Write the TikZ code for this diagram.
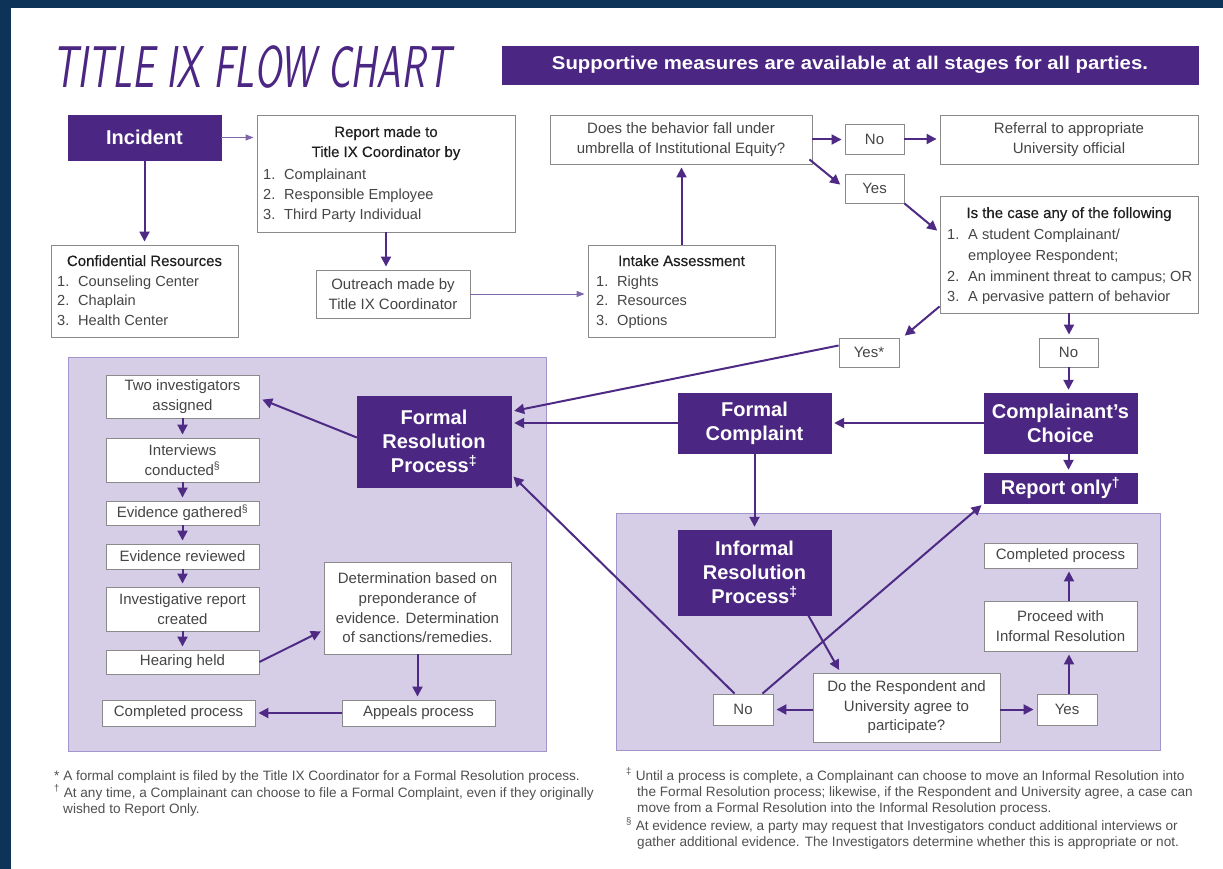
\documentclass[tikz,border=0pt]{standalone}
\usepackage{fontspec}
\setmainfont{Liberation Sans}
\newfontfamily\medfont[FakeBold=0.35]{Liberation Sans}
\usepackage{graphicx}
\usetikzlibrary{arrows.meta,calc}
\definecolor{navy}{HTML}{0E3358}
\definecolor{purp}{HTML}{4B2682}
\definecolor{arrc}{HTML}{4E2A84}
\definecolor{tarrc}{HTML}{7D66AA}
\definecolor{lav}{HTML}{D5CEE6}
\definecolor{lavb}{HTML}{A396CC}
\definecolor{bgray}{HTML}{8A8A8A}
\definecolor{txt}{HTML}{454545}
\definecolor{hd}{HTML}{1E1E1E}
\definecolor{fntc}{HTML}{505050}
\newcommand\bodyf{\fontsize{15}{19.6}\selectfont}
\newcommand\listf{\fontsize{14.6}{19.6}\selectfont}
\newcommand\headf{\bfseries\fontsize{20}{24}\selectfont}
\newcommand\itn[1]{\makebox[21pt][l]{#1}}
\newcommand\mkbox[7][wbox]{\node[#1, minimum width={(#5-#3)*1pt}, minimum height={(#6-#4)*1pt}] (#2) at ({(#3+#5)/2},{(#4+#6)/2}) {#7};}
\tikzset{
  wbox/.style={draw=bgray, line width=0.9pt, fill=white, inner sep=0pt, text=txt, font=\bodyf, align=center},
  pbox/.style={draw=purp, fill=purp, inner sep=0pt, text=white, font=\headf, align=center},
  banner/.style={draw=purp, fill=purp, inner sep=0pt, text=white, font=\bfseries\fontsize{18.5}{22}\selectfont},
  panel/.style={draw=lavb, line width=1pt, fill=lav},
  arr/.style={draw=arrc, line width=2pt, -{Triangle[length=10pt,width=10pt]}, shorten >=3pt},
  tarr/.style={draw=tarrc, line width=1pt, -{Triangle[length=8pt,width=6pt]}, shorten >=3pt},
  hdt/.style={anchor=base, inner sep=0pt, font=\medfont\fontsize{15}{19.6}\selectfont, text=hd},
  itm/.style={anchor=base west, inner sep=0pt, font=\listf, text=txt},
  fnt/.style={anchor=base west, inner sep=0pt, font=\fontsize{13.6}{16}\selectfont, text=fntc}
}
\begin{document}
\begin{tikzpicture}[x=1pt,y=-1pt]
\useasboundingbox (0,0) rectangle (1223,869);
\fill[white] (0,0) rectangle (1223,869);
\fill[navy] (0,0) rectangle (1223,8);
\fill[navy] (0,0) rectangle (11,869);

% title and banner
\node[anchor=base west, inner sep=0pt, text=purp, font=\sffamily\slshape\fontsize{59}{62}\selectfont] (title) at (52,88) {\resizebox{398pt}{\height}{TITLE IX FLOW CHART}};
\mkbox[banner]{banner}{502}{46}{1198}{84}{\scalebox{1.1}[1]{Supportive measures are available at all stages for all parties.}}

% panels
\draw[panel] (68,357) rectangle (546,751);
\draw[panel] (616,513) rectangle (1160,750);

% top row
\mkbox[pbox]{incident}{68}{115}{221}{160}{Incident}
\mkbox{report}{257}{115}{515}{232}{}
\node[hdt] (repT1) at (386,137) {Report made to};
\node[hdt] (repT2) at (386,157) {Title IX Coordinator by};
\node[itm] (repI1) at (263,180) {\itn{1.}Complainant};
\node[itm] (repI2) at (263,199.5) {\itn{2.}Responsible Employee};
\node[itm] (repI3) at (263,219) {\itn{3.}Third Party Individual};

\mkbox{conf}{51}{245}{238}{337}{}
\node[hdt] (confT) at (144.5,266) {Confidential Resources};
\node[itm] (confI1) at (57,286) {\itn{1.}Counseling Center};
\node[itm] (confI2) at (57,305.5) {\itn{2.}Chaplain};
\node[itm] (confI3) at (57,325) {\itn{3.}Health Center};

\mkbox{outreach}{316}{270}{470}{318}{Outreach made by\\Title IX Coordinator}

\mkbox{intake}{588}{245}{775}{337}{}
\node[hdt] (intT) at (681.5,266) {Intake Assessment};
\node[itm] (intI1) at (596,286) {\itn{1.}Rights};
\node[itm] (intI2) at (596,305.5) {\itn{2.}Resources};
\node[itm] (intI3) at (596,325) {\itn{3.}Options};

\mkbox{does}{550}{115}{812}{164}{Does the behavior fall under\\umbrella of Institutional Equity?}
\mkbox{noA}{845}{124}{904}{154}{No}
\mkbox{referral}{940}{115}{1198}{164}{Referral to appropriate\\University official}
\mkbox{yesA}{845}{174}{904}{203}{Yes}

\mkbox{iscase}{940}{196}{1198}{313}{}
\node[hdt] (isT) at (1069,218) {Is the case any of the following};
\node[itm] (isI1) at (947,240) {\itn{1.}A student Complainant/};
\node[itm] (isI1b) at (947,260) {\itn{}employee Respondent;};
\node[itm] (isI2) at (947,281.5) {\itn{2.}An imminent threat to campus; OR};
\node[itm] (isI3) at (947,301.5) {\itn{3.}A pervasive pattern of behavior};

\mkbox{yesB}{839}{338}{899}{367}{Yes*}
\mkbox{noB}{1039}{338}{1098}{367}{No}

% middle
\mkbox[pbox]{cc}{984}{393}{1137}{453}{Complainant’s\\Choice}
\mkbox[pbox]{fc}{678}{393}{831}{453}{Formal\\Complaint}
\mkbox[pbox]{frp}{357}{396}{511}{487}{Formal\\Resolution\\Process\textsuperscript{‡}}
\mkbox[pbox]{ronly}{984}{473}{1137}{503}{Report only\textsuperscript{†}}

% right panel
\mkbox[pbox]{irp}{678}{530}{831}{615}{Informal\\Resolution\\Process\textsuperscript{‡}}
\mkbox{doq}{813}{673}{1000}{742}{Do the Respondent and\\University agree to\\participate?}
\mkbox{noC}{713}{694}{773}{725}{No}
\mkbox{yesC}{1037}{694}{1097}{725}{Yes}
\mkbox{proceed}{984}{601}{1137}{651}{Proceed with\\Informal Resolution}
\mkbox{compR}{984}{543}{1137}{568}{Completed process}

% left panel
\mkbox{two}{106}{375}{259}{418}{Two investigators\\assigned}
\mkbox{interv}{106}{438}{259}{482}{Interviews\\conducted\textsuperscript{§}}
\mkbox{gath}{106}{501}{259}{525}{Evidence gathered\textsuperscript{§}}
\mkbox{rev}{106}{544}{259}{569}{Evidence reviewed}
\mkbox{invrep}{106}{587}{259}{631}{Investigative report\\created}
\mkbox{hear}{106}{650}{259}{674}{Hearing held}
\mkbox{det}{324}{562}{511}{654}{Determination based on\\preponderance of\\evidence. Determination\\of sanctions/remedies.}
\mkbox{appeals}{342}{700}{495}{726}{Appeals process}
\mkbox{compL}{102}{700}{255}{726}{Completed process}

% connectors
\draw[tarr] (incident.east) -- (incident.east -| report.west);
\draw[arr] (incident.south) -- (conf.north);
\draw[arr] (report.south) -- (report.south |- outreach.north);
\draw[tarr] (outreach.east) -- (outreach.east -| intake.west);
\draw[arr] (intake.north) -- (intake.north |- does.south);
\draw[arr] (does.east) -- (does.east -| noA.west);
\draw[arr] (noA.east) -- (noA.east -| referral.west);
\draw[arr] ($(does.south east)+(-3,-5)$) -- ($(yesA.west)+(-2,-2)$);
\draw[arr] (yesA.south east) -- ($(iscase.north west)+(0,37)$);
\draw[arr] ($(iscase.south west)+(0,-7)$) -- ($(yesB.north east)+(3,0)$);
\draw[arr] ($(yesB.west)+(0,-7)$) -- ($(frp.east)+(0,-30)$);
\draw[arr] (iscase.south) -- (iscase.south |- noB.north);
\draw[arr] (noB.south) -- (noB.south |- cc.north);
\draw[arr] (cc.west) -- (fc.east);
\draw[arr] (fc.west) -- (fc.west -| frp.east);
\draw[arr] (noB.south |- cc.south) -- (noB.south |- ronly.north);
\draw[arr] (fc.south) -- (irp.north);
\draw[arr] ($(irp.south east)+(-23,0)$) -- ($(doq.north west)+(28,0)$);
\draw[arr] (doq.west |- noC.east) -- (noC.east);
\draw[arr] (doq.east |- yesC.west) -- (yesC.west);
\draw[arr] ($(yesC.north)+(2,0)$) -- ($(yesC.north |- proceed.south)+(2,0)$);
\draw[arr] ($(yesC.north |- proceed.north)+(2,0)$) -- ($(yesC.north |- compR.south)+(2,0)$);
\draw[arr] ($(noC.north east)+(-11,0)$) -- (ronly.south west);
\draw[arr] ($(noC.north west)+(22,0)$) -- ($(frp.east)+(0,33)$);
\draw[arr] ($(frp.west)+(0,-4)$) -- ($(two.east)+(0,2)$);
\draw[arr] (two.south) -- (interv.north);
\draw[arr] (interv.south) -- (gath.north);
\draw[arr] (gath.south) -- (rev.north);
\draw[arr] (rev.south) -- (invrep.north);
\draw[arr] (invrep.south) -- (hear.north);
\draw[arr] (hear.east) -- ($(det.west)+(0,22)$);
\draw[arr] (det.south) -- (det.south |- appeals.north);
\draw[arr] (appeals.west) -- (compL.east);

% footnotes
\node[fnt] (fn1) at (54,780) {* A formal complaint is filed by the Title IX Coordinator for a Formal Resolution process.};
\node[fnt] (fn2) at (54,797) {\textsuperscript{†} At any time, a Complainant can choose to file a Formal Complaint, even if they originally};
\node[fnt] (fn3) at (63,813) {wished to Report Only.};
\node[fnt] (fn4) at (626,780) {\textsuperscript{‡} Until a process is complete, a Complainant can choose to move an Informal Resolution into};
\node[fnt] (fn5) at (637,796) {the Formal Resolution process; likewise, if the Respondent and University agree, a case can};
\node[fnt] (fn6) at (637,812) {move from a Formal Resolution into the Informal Resolution process.};
\node[fnt] (fn7) at (626,830) {\textsuperscript{§} At evidence review, a party may request that Investigators conduct additional interviews or};
\node[fnt] (fn8) at (637,846) {gather additional evidence. The Investigators determine whether this is appropriate or not.};
\end{tikzpicture}
\end{document}
